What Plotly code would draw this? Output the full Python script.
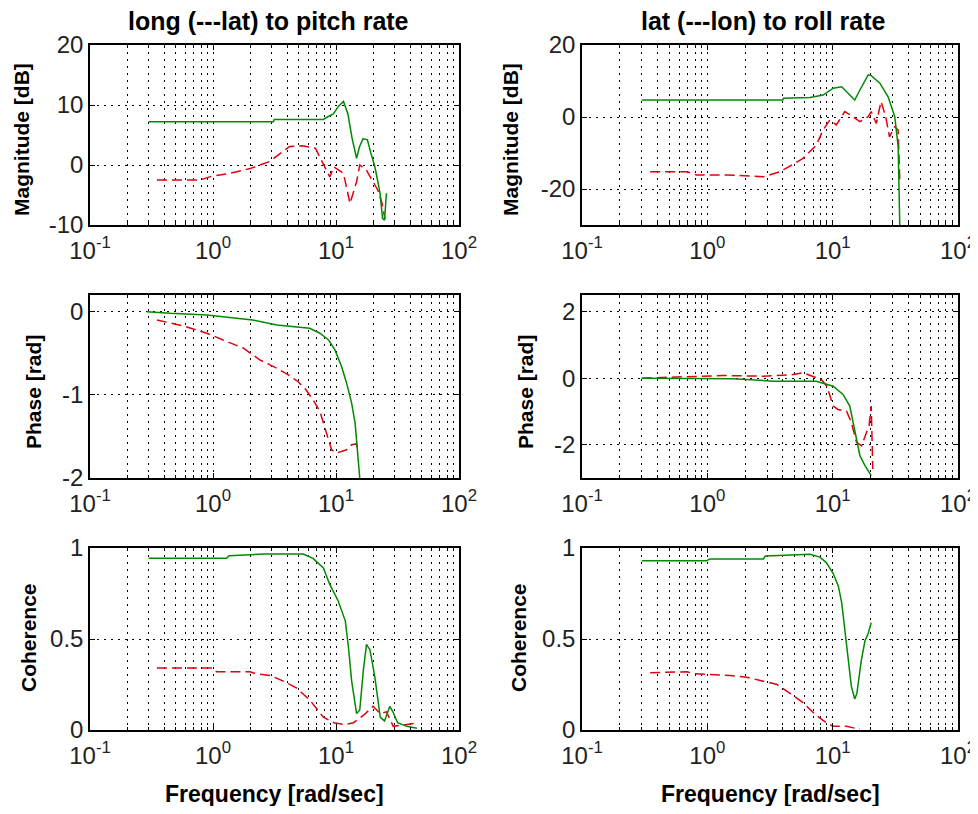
import plotly.graph_objects as go

# ---------------- data ----------------
# Top-left: magnitude, long (solid) / lat (dashed) to pitch rate
f_mag_l_on = [0.30, 1.0, 3.1, 3.15, 7.9, 8.5, 9.5, 10.5, 11.5, 12.5, 13.5, 14.7, 15.5, 16.6, 18.0, 19.2, 20.7, 22.0, 22.8, 23.9, 24.8, 25.7]
m_mag_l_on = [7.2, 7.2, 7.2, 7.6, 7.6, 8.0, 8.5, 9.8, 10.6, 8.5, 4.5, 1.1, 3.0, 4.4, 4.2, 2.0, -0.3, -3.0, -4.7, -8.9, -9.2, -4.7]
f_mag_l_off = [0.35, 0.78, 0.97, 1.37, 2.0, 2.9, 4.2, 5.25, 6.8, 7.6, 8.9, 9.6, 11.5, 13.0, 14.7, 15.6, 17.6, 21.9, 23.7, 25.0]
m_mag_l_off = [-2.5, -2.5, -1.9, -1.4, -0.6, 0.6, 3.1, 3.2, 2.8, 0.8, -2.0, -0.3, -1.4, -6.4, -2.8, 0.0, -0.8, -4.2, -6.4, -9.0]

# Top-right: magnitude, lat (solid) / lon (dashed) to roll rate
f_mag_r_on = [0.30, 4.0, 4.05, 6.6, 8.4, 10.1, 11.8, 13.3, 15.0, 16.5, 19.2, 20.3, 23.8, 27.7, 31.3, 33.3, 34.3]
m_mag_r_on = [4.7, 4.7, 5.2, 5.4, 6.1, 8.0, 8.4, 6.6, 4.7, 7.5, 11.7, 11.5, 9.4, 5.6, 0.1, -8.2, -30.0]
f_mag_r_off = [0.35, 0.69, 0.82, 1.43, 2.8, 3.8, 5.8, 7.4, 8.4, 9.5, 10.7, 12.5, 14.5, 16.5, 19.2, 20.3, 22.3, 24.3, 26.5, 28.4, 31.3, 33.3, 34.3]
m_mag_r_off = [-15.2, -15.2, -16.1, -16.1, -16.6, -15.2, -11.5, -7.8, -3.6, -0.8, -2.2, 1.5, 0.1, -1.3, 0.1, 1.5, -1.8, 4.3, 0.1, -5.5, -2.7, -3.6, -17.5]

# Middle-left: phase
f_ph_l_on = [0.29, 0.45, 0.89, 1.37, 2.1, 3.3, 4.8, 6.1, 7.4, 8.7, 9.8, 11.1, 12.2, 13.4, 14.3, 14.7, 15.1, 15.6]
p_ph_l_on = [0.0, -0.02, -0.04, -0.07, -0.10, -0.16, -0.18, -0.20, -0.26, -0.34, -0.46, -0.66, -0.86, -1.10, -1.34, -1.58, -1.80, -2.0]
f_ph_l_off = [0.35, 0.57, 0.89, 1.37, 1.77, 2.4, 3.3, 4.1, 4.9, 5.7, 6.5, 7.4, 8.1, 8.7, 9.2, 10.1, 12.2, 13.4, 14.7, 15.1]
p_ph_l_off = [-0.10, -0.17, -0.26, -0.37, -0.44, -0.58, -0.68, -0.76, -0.84, -0.94, -1.06, -1.20, -1.38, -1.54, -1.66, -1.70, -1.66, -1.60, -1.59, -1.70]

# Middle-right: phase
f_ph_r_on = [0.30, 1.6, 3.4, 7.4, 10.1, 12.1, 13.7, 14.5, 15.5, 16.5, 18.1, 20.3]
p_ph_r_on = [0.0, -0.02, -0.09, -0.09, -0.24, -0.49, -0.84, -1.33, -1.83, -2.33, -2.63, -2.93]
f_ph_r_off = [0.30, 0.77, 1.34, 2.8, 4.6, 5.8, 7.0, 8.1, 9.0, 9.5, 10.1, 11.0, 12.9, 14.1, 15.5, 17.0, 18.6, 19.5, 20.3, 20.6, 20.9]
p_ph_r_off = [0.0, 0.06, 0.08, 0.06, 0.10, 0.16, 0.06, -0.04, -0.24, -0.49, -0.84, -0.94, -0.99, -1.33, -1.93, -2.03, -1.63, -1.43, -0.84, -1.93, -2.73]

# Bottom-left: coherence
f_co_l_on = [0.30, 1.29, 1.35, 2.6, 5.4, 6.5, 7.9, 8.9, 10.4, 11.9, 12.6, 13.4, 14.7, 15.6, 16.7, 17.7, 18.9, 20.7, 22.9, 24.8, 27.4, 29.0, 31.7, 37.6, 45.5]
c_co_l_on = [0.943, 0.943, 0.958, 0.967, 0.967, 0.943, 0.89, 0.80, 0.71, 0.60, 0.46, 0.27, 0.09, 0.11, 0.33, 0.47, 0.44, 0.29, 0.07, 0.05, 0.13, 0.10, 0.04, 0.02, 0.01]
f_co_l_off = [0.35, 0.83, 1.0, 1.07, 2.0, 2.2, 2.9, 3.7, 4.8, 6.2, 7.9, 9.6, 11.7, 13.9, 16.7, 20.0, 22.9, 25.7, 29.2, 37.6, 46.6]
c_co_l_off = [0.34, 0.34, 0.34, 0.32, 0.32, 0.31, 0.30, 0.27, 0.23, 0.16, 0.07, 0.04, 0.03, 0.04, 0.08, 0.13, 0.09, 0.10, 0.02, 0.03, 0.04]

# Bottom-right: coherence
f_co_r_on = [0.30, 0.99, 1.05, 2.8, 2.9, 4.3, 6.6, 7.9, 8.9, 10.1, 11.1, 11.8, 12.5, 13.3, 14.1, 15.0, 15.6, 16.9, 18.1, 19.2, 20.3]
c_co_r_on = [0.93, 0.93, 0.94, 0.94, 0.956, 0.96, 0.965, 0.95, 0.92, 0.86, 0.79, 0.70, 0.55, 0.40, 0.24, 0.17, 0.20, 0.38, 0.49, 0.53, 0.59]
f_co_r_off = [0.35, 0.69, 0.77, 1.52, 2.06, 2.8, 3.6, 4.6, 5.8, 7.4, 8.9, 10.1, 12.9, 16.5]
c_co_r_off = [0.315, 0.32, 0.31, 0.30, 0.29, 0.27, 0.25, 0.20, 0.15, 0.08, 0.04, 0.02, 0.02, 0.004]

x_tickvals = [0.1, 1, 10, 100]
x_ticktext = ["10<sup>-1</sup>", "10<sup>0</sup>", "10<sup>1</sup>", "10<sup>2</sup>"]

titles = ["long (---lat) to pitch rate", "lat (---lon) to roll rate"]
ylabels = ["Magnitude [dB]", "Phase [rad]", "Coherence"]
xlabel = "Frequency [rad/sec]"

# y axis specs per panel: (range, tickvals, ticktext)
yspec = {
    (0, 0): ([-10, 20], [-10, 0, 10, 20], ["-10", "0", "10", "20"]),
    (0, 1): ([-30, 20], [-20, 0, 20], ["-20", "0", "20"]),
    (1, 0): ([-2, 0.2], [-2, -1, 0], ["-2", "-1", "0"]),
    (1, 1): ([-3, 2.5], [-2, 0, 2], ["-2", "0", "2"]),
    (2, 0): ([0, 1], [0, 0.5, 1], ["0", "0.5", "1"]),
    (2, 1): ([0, 1], [0, 0.5, 1], ["0", "0.5", "1"]),
}

series = {
    (0, 0): (f_mag_l_on, m_mag_l_on, f_mag_l_off, m_mag_l_off),
    (0, 1): (f_mag_r_on, m_mag_r_on, f_mag_r_off, m_mag_r_off),
    (1, 0): (f_ph_l_on, p_ph_l_on, f_ph_l_off, p_ph_l_off),
    (1, 1): (f_ph_r_on, p_ph_r_on, f_ph_r_off, p_ph_r_off),
    (2, 0): (f_co_l_on, c_co_l_on, f_co_l_off, c_co_l_off),
    (2, 1): (f_co_r_on, c_co_r_on, f_co_r_off, c_co_r_off),
}

# ---------------- layout geometry (screen pixels; page body has an 8px margin) ----------------
OFF = 8
W, H = 970, 798
col_px = [(90, 459), (582, 958)]
row_px = [(45, 225), (295, 478), (548, 730)]
ML = col_px[0][0] - OFF
MR = W - (col_px[1][1] - OFF)
MT = row_px[0][0] - OFF
MB = H - (row_px[2][1] - OFF)
PW, PH = W - ML - MR, H - MT - MB
# y-title centres (x per column, y per row) in screen pixels
ytitle_x = [[22, 33, 28], [511, 525, 518]]
ytitle_y = [140, 392, 638]
title_x = [268, 763]


def px_x(px):
    return (px - OFF - ML) / PW


def px_y(py):
    return 1 - (py - OFF - MT) / PH


def xdom(c):
    a, b = col_px[c]
    return [px_x(a), px_x(b)]


def ydom(r):
    a, b = row_px[r]
    return [px_y(b), px_y(a)]


FONT = "Liberation Sans, Arial, sans-serif"
GREEN = "#008a00"
RED = "#e00010"
DOT = "2px,5px"

fig = go.Figure()
layout = dict(
    width=W, height=H, margin=dict(l=ML, r=MR, t=MT, b=MB, autoexpand=False),
    paper_bgcolor="white", plot_bgcolor="white", showlegend=False,
    font=dict(family=FONT, color="black"),
)

idx = 0
for r in range(3):
    for c in range(2):
        idx += 1
        xa = "x" if idx == 1 else f"x{idx}"
        ya = "y" if idx == 1 else f"y{idx}"
        fon, von, foff, voff = series[(r, c)]
        fig.add_trace(go.Scatter(x=foff, y=voff, mode="lines", xaxis=xa, yaxis=ya,
                                 line=dict(color=RED, width=1.5, dash="10px,5px")))
        fig.add_trace(go.Scatter(x=fon, y=von, mode="lines", xaxis=xa, yaxis=ya,
                                 line=dict(color=GREEN, width=1.5)))
        yr, ytv, ytt = yspec[(r, c)]
        layout["xaxis" if idx == 1 else f"xaxis{idx}"] = dict(
            type="log", range=[-1, 2], domain=[max(0, xdom(c)[0]), min(1, xdom(c)[1])],
            anchor=ya, automargin=False,
            tickvals=x_tickvals, ticktext=x_ticktext, ticklabelstandoff=3,
            tickfont=dict(size=24, family=FONT, color="#222"),
            ticks="inside", ticklen=5, tickcolor="black",
            showline=True, linecolor="black", linewidth=1.5, mirror="ticks",
            showgrid=True, gridcolor="black", griddash=DOT, gridwidth=1,
            minor=dict(dtick="D1", ticks="inside", ticklen=3, tickcolor="black",
                       showgrid=True, gridcolor="black", griddash=DOT, gridwidth=1),
            zeroline=False, fixedrange=True,
        )
        layout["yaxis" if idx == 1 else f"yaxis{idx}"] = dict(
            range=yr, domain=[max(0, ydom(r)[0]), min(1, ydom(r)[1])],
            anchor=xa, automargin=False,
            tickvals=ytv, ticktext=ytt,
            tickfont=dict(size=24, family=FONT, color="#222"),
            ticks="inside", ticklen=5, tickcolor="black",
            showline=True, linecolor="black", linewidth=1.5, mirror="ticks",
            showgrid=True, gridcolor="black", griddash=DOT, gridwidth=1,
            zeroline=False, fixedrange=True,
        )

ann = []
for c in range(2):
    cx = px_x((col_px[c][0] + col_px[c][1]) / 2)
    ann.append(dict(text=f"<b>{titles[c]}</b>", x=px_x(title_x[c]), y=px_y(21), xref="paper", yref="paper",
                    showarrow=False, font=dict(size=25, family=FONT), xanchor="center", yanchor="middle"))
    ann.append(dict(text=f"<b>{xlabel}</b>", x=cx, y=px_y(794), xref="paper", yref="paper",
                    showarrow=False, font=dict(size=23, family=FONT), xanchor="center", yanchor="middle"))
    for r in range(3):
        ann.append(dict(text=f"<b>{ylabels[r]}</b>", x=px_x(ytitle_x[c][r]), y=px_y(ytitle_y[r]),
                        xref="paper", yref="paper",
                        showarrow=False, textangle=-90, font=dict(size=21, family=FONT),
                        xanchor="center", yanchor="middle"))
layout["annotations"] = ann

fig.update_layout(**layout)
fig.write_html("out.html")
